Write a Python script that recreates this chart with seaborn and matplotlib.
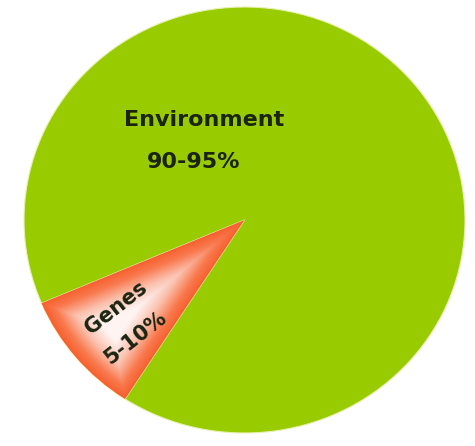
import numpy as np
import matplotlib
matplotlib.use('Agg')
import matplotlib.pyplot as plt
import seaborn as sns
from matplotlib.colors import LinearSegmentedColormap

# 数据
labels = ['Genes', 'Environment']
shares = [9.5, 90.5]
ranges = ['5-10%', '90-95%']
colors = ['#f96a3c', '#99cc00']

sns.set_theme(style='white')
plt.rcParams['font.family'] = ['DejaVu Sans']

W, H = 475, 446
fig = plt.figure(figsize=(W / 100, H / 100), dpi=100)
fig.patch.set_facecolor('white')

# 饼图的外框（像素）
left, right, top, bottom = 24, 465, 7, 433
rx, ry = (right - left) / 2, (bottom - top) / 2
ax = fig.add_axes([left / W, (H - bottom) / H, (right - left) / W, (bottom - top) / H])

wedges, _ = ax.pie(shares, colors=colors, startangle=203, counterclock=True,
                   radius=1, center=(0, 0))
ax.set_aspect('auto')
ax.set_xlim(-1, 1)
ax.set_ylim(-1, 1)
ax.axis('off')

wedges[0].set_edgecolor('#fff6c8')
wedges[0].set_linewidth(1.3)
wedges[1].set_edgecolor('#e8f0b0')
wedges[1].set_linewidth(0.8)

# Genes 扇区的内发光渐变：按到扇区边界的像素距离着色
g = np.linspace(-1, 1, 500)
X, Y = np.meshgrid(g, g)
PX, PY = X * rx, Y * ry
t1, t2 = np.radians(wedges[0].theta1), np.radians(wedges[0].theta2)
d1 = np.array([np.cos(t1) * rx, np.sin(t1) * ry])
d1 /= np.linalg.norm(d1)
d2 = np.array([np.cos(t2) * rx, np.sin(t2) * ry])
d2 /= np.linalg.norm(d2)
e1 = -(d1[0] * PY - d1[1] * PX)   # 到第一条边的距离
e2 = d2[0] * PY - d2[1] * PX      # 到第二条边的距离
arc = (1 - np.sqrt(X ** 2 + Y ** 2)) * (rx + ry) / 2
depth = np.minimum(np.minimum(np.abs(e1), np.abs(e2)), arc)
Z = np.clip(depth / 40, 0, 1)
cmap = LinearSegmentedColormap.from_list(
    'g', [(0, '#f7602f'), (0.25, '#f97a4f'), (0.6, '#fbc0ad'), (1, '#fff4f2')])
img = ax.imshow(Z, extent=(-1, 1, -1, 1), origin='lower', cmap=cmap,
                vmin=0, vmax=1, zorder=2, aspect='auto')
img.set_clip_path(wedges[0])

txt = '#1b2410'
fig.text(204 / W, 1 - 120 / H, labels[1], ha='center', va='center',
         fontsize=16, fontweight='bold', color=txt)
fig.text(194 / W, 1 - 162 / H, ranges[1], ha='center', va='center',
         fontsize=16, fontweight='bold', color=txt)
fig.text(116 / W, 1 - 308 / H, labels[0], ha='center', va='center',
         fontsize=15, fontweight='bold', color=txt, rotation=38,
         rotation_mode='anchor')
fig.text(135 / W, 1 - 338 / H, ranges[0], ha='center', va='center',
         fontsize=15, fontweight='bold', color=txt, rotation=38,
         rotation_mode='anchor')

fig.savefig('out.png', dpi=100, facecolor='white')
